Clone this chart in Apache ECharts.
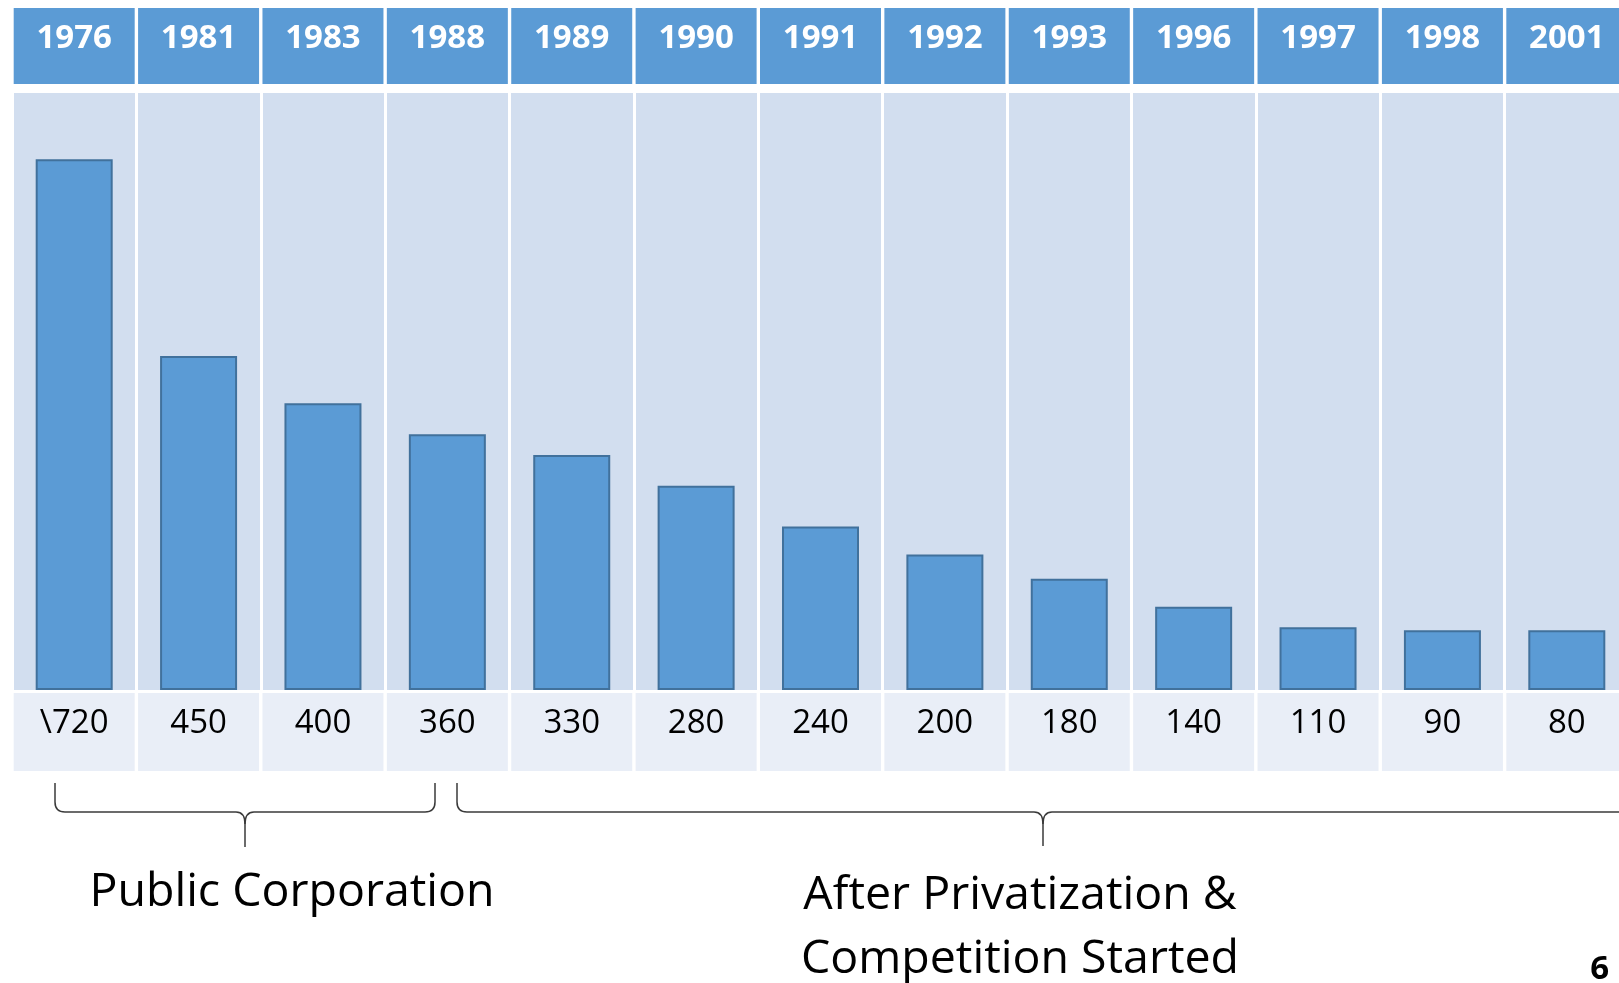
<!DOCTYPE html>
<html>
<head>
<meta charset="utf-8">
<script src="https://cdn.jsdelivr.net/npm/echarts@6/dist/echarts.min.js"></script>
<style>
html,body{margin:0;padding:0;background:#fff;overflow:hidden;width:1619px;height:983px;}
#chart{width:1640px;height:983px;}
</style>
</head>
<body>
<div id="chart"></div>
<script>
// ---- data ----
const years = ['1976','1981','1983','1988','1989','1990','1991','1992','1993','1996','1997','1998','2001'];
const valueLabels = ['\\720','450','400','360','330','280','240','200','180','140','110','90','80'];
// bar heights as drawn in the picture (value units)
const barLevels = [720, 453, 389, 347, 319, 277, 222, 184, 151, 113, 85, 81, 81];
const groupLeft = 'Public Corporation';
const groupRight = ['After Privatization &', 'Competition Started'];
const pageNumber = '6';

const FONT = '"Open Sans", "Noto Sans", sans-serif';
const STROKE = {stroke: '#3a3a3a', lineWidth: 1.5, fill: null};

// horizontal curly brace pointing down (decoration)
function brace(xl, xr, xm, yTop, yMid, yTip, openRight) {
  const r = 10, els = [];
  const line = (x1, y1, x2, y2) => els.push({type: 'line', shape: {x1, y1, x2, y2}, style: STROKE});
  const quad = (x1, y1, cx, cy, x2, y2) => els.push({type: 'bezierCurve', shape: {x1, y1, cpx1: cx, cpy1: cy, x2, y2}, style: STROKE});
  line(xl, yTop, xl, yMid - r);
  quad(xl, yMid - r, xl, yMid, xl + r, yMid);
  line(xl + r, yMid, xm - 9, yMid);
  quad(xm - 9, yMid, xm, yMid, xm, yMid + 12);
  quad(xm + 9, yMid, xm, yMid, xm, yMid + 12);
  line(xm, yMid + 12, xm, yTip);
  if (openRight) {
    line(xm + 9, yMid, xr, yMid);
  } else {
    line(xm + 9, yMid, xr - r, yMid);
    quad(xr - r, yMid, xr, yMid, xr, yMid - r);
    line(xr, yMid - r, xr, yTop);
  }
  return els;
}

const chart = echarts.init(document.getElementById('chart'), null, {renderer: 'canvas'});

chart.setOption({
  animation: false,
  backgroundColor: '#ffffff',
  grid: {
    left: 12, right: 11, top: 93, bottom: 293,
    show: true, backgroundColor: '#D2DEEF', borderWidth: 0, containLabel: false
  },
  xAxis: [
    {
      type: 'category', data: years, position: 'top',
      axisLine: {show: false}, axisTick: {show: false},
      splitLine: {show: true, interval: 0, lineStyle: {color: '#ffffff', width: 3}},
      axisLabel: {
        interval: 0, margin: 9,
        color: '#ffffff', fontFamily: FONT, fontWeight: 'bold', fontSize: 33,
        backgroundColor: '#5B9BD5', width: 121, lineHeight: 40, padding: [11, 0, 25, 0], align: 'center'
      }
    },
    {
      type: 'category', data: valueLabels, position: 'bottom',
      axisLine: {show: false}, axisTick: {show: false}, splitLine: {show: false},
      axisLabel: {
        interval: 0, margin: 3,
        color: '#000000', fontFamily: FONT, fontSize: 33,
        backgroundColor: '#E9EEF7', width: 121, lineHeight: 40, padding: [11, 0, 27, 0], align: 'center'
      }
    }
  ],
  yAxis: {
    type: 'value', min: 0, max: 810, show: false,
    splitLine: {show: false}
  },
  series: [{
    type: 'bar', xAxisIndex: 0, data: barLevels, barWidth: 77,
    itemStyle: {color: '#5B9BD5', borderColor: '#41719C', borderWidth: 2}
  }],
  graphic: [].concat(
    brace(55, 435, 245, 783, 812, 847, false),
    brace(457, 1640, 1043, 783, 812, 846, true),
    [
      {
        type: 'text', x: 292, y: 893,
        style: {text: groupLeft, font: '46.5px ' + FONT, fill: '#000000', textAlign: 'center', textVerticalAlign: 'middle'}
      },
      {
        type: 'text', x: 1020, y: 896,
        style: {text: groupRight[0], font: '46.5px ' + FONT, fill: '#000000', textAlign: 'center', textVerticalAlign: 'middle'}
      },
      {
        type: 'text', x: 1020, y: 960,
        style: {text: groupRight[1], font: '46.5px ' + FONT, fill: '#000000', textAlign: 'center', textVerticalAlign: 'middle'}
      },
      {
        type: 'text', x: 1609, y: 970,
        style: {text: pageNumber, font: 'bold 33px ' + FONT, fill: '#000000', textAlign: 'right', textVerticalAlign: 'middle'}
      }
    ]
  )
});
</script>
</body>
</html>
